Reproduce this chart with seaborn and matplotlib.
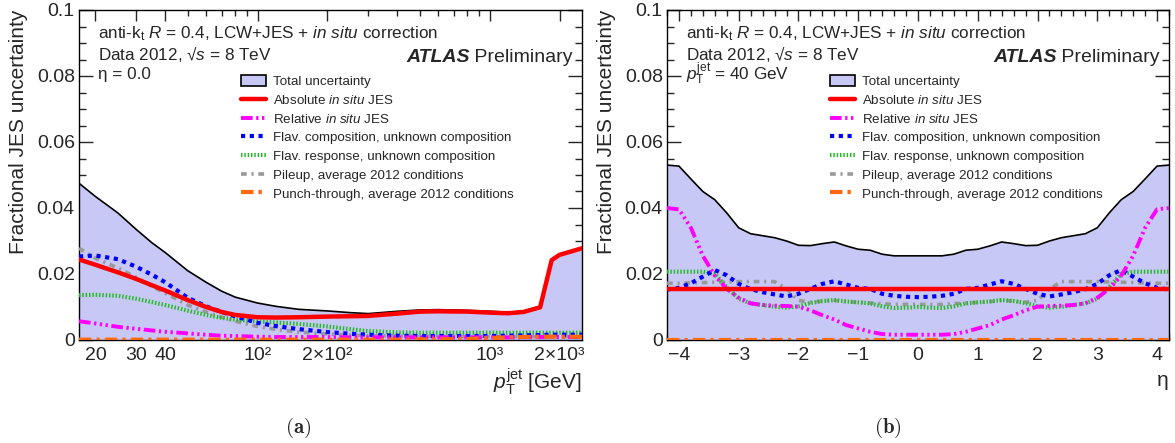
import numpy as np
import pandas as pd
import matplotlib
matplotlib.use("Agg")
import matplotlib.pyplot as plt
import seaborn as sns
from matplotlib.patches import Patch
from matplotlib.lines import Line2D
from matplotlib.ticker import FixedLocator, FixedFormatter, MultipleLocator, NullFormatter

# ---------------- data: panel (a), eta = 0 ----------------
PT = [17, 20, 25, 30, 35, 40, 50, 60, 70, 80, 100, 120, 150, 200, 250, 300,
      400, 500, 600, 800, 1000, 1200, 1400, 1650, 1850, 2000, 2500]
PT_TOTAL = [0.0475, 0.0435, 0.0385, 0.0335, 0.0295, 0.0265, 0.0210, 0.0175, 0.0148, 0.0130,
            0.0112, 0.0102, 0.0093, 0.0088, 0.0083, 0.0080, 0.0087, 0.0091, 0.0092, 0.0090,
            0.0087, 0.0084, 0.0088, 0.0102, 0.0245, 0.0260, 0.0280]
PT_ABS = [0.0244, 0.0228, 0.0205, 0.0185, 0.0166, 0.0150, 0.0121, 0.0100, 0.0085, 0.0076,
          0.0069, 0.0068, 0.0069, 0.0071, 0.0072, 0.0073, 0.0080, 0.0086, 0.0087, 0.0086,
          0.0083, 0.0081, 0.0085, 0.0099, 0.0242, 0.0258, 0.0278]
PT_REL = [0.0057, 0.0050, 0.0040, 0.0034, 0.0029, 0.0025, 0.0020, 0.0016, 0.0013, 0.0012,
          0.0010, 0.0009, 0.0009, 0.0009, 0.0008, 0.0008, 0.0008, 0.0008, 0.0008, 0.0008,
          0.0008, 0.0008, 0.0008, 0.0009, 0.0009, 0.0009, 0.0009]
PT_FLAVCOMP = [0.0253, 0.0256, 0.0245, 0.0222, 0.0198, 0.0175, 0.0128, 0.0102, 0.0085, 0.0072,
               0.0052, 0.0042, 0.0033, 0.0024, 0.0019, 0.0016, 0.0013, 0.0012, 0.0012, 0.0012,
               0.0012, 0.0013, 0.0014, 0.0015, 0.0016, 0.0016, 0.0016]
PT_FLAVRESP = [0.0136, 0.0137, 0.0134, 0.0125, 0.0115, 0.0106, 0.0089, 0.0076, 0.0067, 0.0062,
               0.0056, 0.0053, 0.0049, 0.0041, 0.0033, 0.0027, 0.0023, 0.0022, 0.0022, 0.0022,
               0.0022, 0.0022, 0.0022, 0.0022, 0.0022, 0.0022, 0.0022]
PT_PILEUP = [0.0278, 0.0248, 0.0218, 0.0190, 0.0163, 0.0142, 0.0106, 0.0085, 0.0069, 0.0057,
             0.0041, 0.0032, 0.0024, 0.0018, 0.0015, 0.0013, 0.0012, 0.0011, 0.0011, 0.0010,
             0.0010, 0.0010, 0.0010, 0.0010, 0.0010, 0.0010, 0.0010]
PT_PUNCH = [0.0001, 0.0001, 0.0001, 0.0001, 0.0001, 0.0001, 0.0001, 0.0001, 0.0001, 0.0001,
            0.0001, 0.0001, 0.0001, 0.0001, 0.0001, 0.0001, 0.0001, 0.0002, 0.0002, 0.0003,
            0.0006, 0.0008, 0.0009, 0.0010, 0.0010, 0.0010, 0.0010]

# ---------------- data: panel (b), pT = 40 GeV ----------------
ETA = [-4.2, -4.0, -3.8, -3.6, -3.4, -3.2, -3.0, -2.8, -2.6, -2.4, -2.2, -2.0, -1.8, -1.6,
       -1.4, -1.2, -1.0, -0.8, -0.6, -0.4, -0.2, 0.0, 0.2, 0.4, 0.6, 0.8, 1.0, 1.2, 1.4,
       1.6, 1.8, 2.0, 2.2, 2.4, 2.6, 2.8, 3.0, 3.2, 3.4, 3.6, 3.8, 4.0, 4.2]
ETA_TOTAL = [0.0530, 0.0527, 0.0488, 0.0450, 0.0425, 0.0385, 0.0340, 0.0322, 0.0316, 0.0310,
             0.0300, 0.0287, 0.0286, 0.0292, 0.0297, 0.0285, 0.0275, 0.0272, 0.0260, 0.0255,
             0.0255, 0.0255, 0.0255, 0.0255, 0.0260, 0.0272, 0.0275, 0.0285, 0.0297, 0.0292,
             0.0286, 0.0287, 0.0300, 0.0310, 0.0316, 0.0322, 0.0340, 0.0385, 0.0425, 0.0450,
             0.0488, 0.0527, 0.0530]
ETA_ABS = [0.0154] * 43
ETA_REL = [0.0400, 0.0396, 0.0340, 0.0255, 0.0195, 0.0155, 0.0128, 0.0111, 0.0106, 0.0104,
           0.0103, 0.0101, 0.0090, 0.0075, 0.0062, 0.0045, 0.0035, 0.0025, 0.0018, 0.0016,
           0.0016, 0.0016, 0.0016, 0.0016, 0.0018, 0.0025, 0.0035, 0.0045, 0.0062, 0.0075,
           0.0090, 0.0101, 0.0103, 0.0104, 0.0106, 0.0111, 0.0128, 0.0155, 0.0195, 0.0255,
           0.0340, 0.0396, 0.0400]
ETA_FLAVCOMP = [0.0153, 0.0158, 0.0172, 0.0192, 0.0212, 0.0196, 0.0170, 0.0154, 0.0145, 0.0138,
                0.0132, 0.0140, 0.0155, 0.0170, 0.0178, 0.0168, 0.0158, 0.0155, 0.0140, 0.0134,
                0.0131, 0.0130, 0.0131, 0.0134, 0.0140, 0.0155, 0.0158, 0.0168, 0.0178, 0.0170,
                0.0155, 0.0140, 0.0132, 0.0138, 0.0145, 0.0154, 0.0170, 0.0196, 0.0212, 0.0192,
                0.0172, 0.0158, 0.0153]
ETA_FLAVRESP = [0.0207, 0.0207, 0.0207, 0.0207, 0.0200, 0.0160, 0.0125, 0.0111, 0.0106, 0.0101,
                0.0098, 0.0102, 0.0112, 0.0118, 0.0121, 0.0117, 0.0114, 0.0111, 0.0102, 0.0097,
                0.0098, 0.0100, 0.0098, 0.0097, 0.0102, 0.0111, 0.0114, 0.0117, 0.0121, 0.0118,
                0.0112, 0.0102, 0.0098, 0.0101, 0.0106, 0.0111, 0.0125, 0.0160, 0.0200, 0.0207,
                0.0207, 0.0207, 0.0207]
ETA_PILEUP = [0.0172, 0.0172, 0.0173, 0.0174, 0.0175, 0.0176, 0.0177, 0.0177, 0.0177, 0.0177,
              0.0155, 0.0120, 0.0114, 0.0118, 0.0120, 0.0116, 0.0114, 0.0112, 0.0110, 0.0108,
              0.0108, 0.0108, 0.0108, 0.0108, 0.0110, 0.0112, 0.0114, 0.0116, 0.0120, 0.0118,
              0.0114, 0.0120, 0.0155, 0.0177, 0.0177, 0.0177, 0.0177, 0.0176, 0.0175, 0.0174,
              0.0173, 0.0172, 0.0172]
ETA_PUNCH = [0.0] * 43

LABELS = ["Total uncertainty", "Absolute $in$ $situ$ JES", "Relative $in$ $situ$ JES",
          "Flav. composition, unknown composition", "Flav. response, unknown composition",
          "Pileup, average 2012 conditions", "Punch-through, average 2012 conditions"]

FILL = "#c8c8f7"
STYLES = [
    dict(color="#ff0000", lw=3.2, ls="-"),
    dict(color="#ff00ff", lw=2.8, ls=(0, (3, 0.9, 0.6, 0.9, 0.6, 0.9, 0.6, 0.9))),
    dict(color="#0000ff", lw=3.0, ls=(0, (1, 1.1))),
    dict(color="#22bb22", lw=3.0, ls=(0, (0.35, 0.45))),
    dict(color="#999999", lw=2.6, ls=(0, (1.6, 1.3, 0.6, 1.3))),
    dict(color="#ff6a10", lw=3.0, ls=(0, (3, 1.2, 0.8, 1.2))),
]

sns.set_style("ticks")
plt.rcParams["font.family"] = ["Liberation Sans", "DejaVu Sans"]
plt.rcParams["mathtext.fontset"] = "custom"
plt.rcParams["mathtext.rm"] = "Liberation Sans"
plt.rcParams["mathtext.it"] = "Liberation Sans:italic"
plt.rcParams["mathtext.bf"] = "Liberation Sans:bold"
plt.rcParams["axes.linewidth"] = 1.0

fig = plt.figure(figsize=(11.75, 4.43), dpi=100)
axL = fig.add_axes([79 / 1175, 103 / 443, 503 / 1175, 330 / 443])
axR = fig.add_axes([667 / 1175, 103 / 443, 502 / 1175, 330 / 443])


def draw(ax, x, total, comps):
    ax.fill_between(x, 0, total, color=FILL, lw=0, zorder=1)
    sns.lineplot(x=x, y=total, ax=ax, color="black", lw=1.2, errorbar=None, zorder=2)
    order = [4, 3, 2, 1, 5, 0]
    for i in order:
        st = STYLES[i]
        sns.lineplot(x=x, y=comps[i], ax=ax, color=st["color"], lw=st["lw"],
                     linestyle=st["ls"], errorbar=None, zorder=3 + (i == 0))


axL.set_xscale("log")
draw(axL, PT, PT_TOTAL, [PT_ABS, PT_REL, PT_FLAVCOMP, PT_FLAVRESP, PT_PILEUP, PT_PUNCH])
draw(axR, ETA, ETA_TOTAL, [ETA_ABS, ETA_REL, ETA_FLAVCOMP, ETA_FLAVRESP, ETA_PILEUP, ETA_PUNCH])

axL.set_xlim(17, 2500)
axR.set_xlim(-4.2, 4.2)

YT = [0, 0.02, 0.04, 0.06, 0.08, 0.1]
YTL = ["0", "0.02", "0.04", "0.06", "0.08", "0.1"]
for ax in (axL, axR):
    ax.set_ylim(0, 0.1)
    ax.yaxis.set_major_locator(FixedLocator(YT))
    ax.yaxis.set_major_formatter(FixedFormatter(YTL))
    ax.yaxis.set_minor_locator(MultipleLocator(0.005))
    ax.tick_params(axis="both", which="both", direction="in", top=True, right=True,
                   labelsize=14, width=1.0)
    ax.tick_params(axis="y", which="major", length=10, pad=3)
    ax.tick_params(axis="y", which="minor", length=5)
    ax.tick_params(axis="x", which="major", length=8, pad=5)
    ax.tick_params(axis="x", which="minor", length=4)
    ax.set_ylabel("Fractional JES uncertainty", fontsize=15, loc="top", labelpad=6)
    for s in ax.spines.values():
        s.set_color("black")

XT = [20, 30, 40, 100, 200, 1000, 2000]
XTL = ["20", "30", "40", "10²", "2×10²", "10³", "2×10³"]
axL.xaxis.set_major_locator(FixedLocator(XT))
axL.xaxis.set_major_formatter(FixedFormatter(XTL))
axL.xaxis.set_minor_locator(FixedLocator([50, 60, 70, 80, 90, 300, 400, 500, 600, 700, 800, 900]))
axL.xaxis.set_minor_formatter(NullFormatter())
axL.set_xlabel(r"$p_{\mathrm{T}}^{\mathrm{jet}}$ [GeV]", fontsize=15, loc="right", labelpad=2)

axR.xaxis.set_major_locator(FixedLocator([-4, -3, -2, -1, 0, 1, 2, 3, 4]))
axR.xaxis.set_major_formatter(FixedFormatter(["−4", "−3", "−2", "−1", "0", "1", "2", "3", "4"]))
axR.xaxis.set_minor_locator(MultipleLocator(0.2))
axR.set_xlabel("η", fontsize=15, loc="right", labelpad=5)

# header texts
prelim = []
for ax, third in ((axL, "η = 0.0"), (axR, r"$p_{\mathrm{T}}^{\mathrm{jet}}$ = 40 GeV")):
    ax.text(0.038, 0.928, r"anti-k$_{\mathrm{t}}$ $R$ = 0.4, LCW+JES + $in$ $situ$ correction",
            transform=ax.transAxes, fontsize=12.3, va="center", ha="left")
    ax.text(0.038, 0.868, r"Data 2012, √$s$ = 8 TeV", transform=ax.transAxes,
            fontsize=12.3, va="center", ha="left")
    ax.text(0.038, 0.805, third, transform=ax.transAxes, fontsize=12.3, va="center", ha="left")
    t = ax.text(0.982, 0.855, " Preliminary", transform=ax.transAxes,
                fontsize=14, va="center", ha="right")
    prelim.append((ax, t))

fig.canvas.draw()
renderer = fig.canvas.get_renderer()
for ax, t in prelim:
    bb = t.get_window_extent(renderer=renderer)
    x_disp = bb.x0
    x_ax = ax.transAxes.inverted().transform((x_disp, 0))[0]
    ax.text(x_ax, 0.855, "ATLAS", transform=ax.transAxes, fontsize=14, fontweight="bold",
            fontstyle="italic", va="center", ha="right")

# legends
handles = [Patch(facecolor=FILL, edgecolor="black", lw=1.2)]
for st in STYLES:
    handles.append(Line2D([], [], color=st["color"], lw=st["lw"], linestyle=st["ls"]))
for ax, x0 in ((axL, 241), (axR, 830)):
    fig.legend(handles, LABELS, loc="upper left",
               bbox_to_anchor=(x0 / 1175, 1 - 75 / 443), frameon=False, fontsize=9.6,
               handlelength=1.9, handleheight=0.9, handletextpad=0.5, labelspacing=0.42,
               borderpad=0, borderaxespad=0)

fig.text(298 / 1175, 1 - 428 / 443, r"$\mathbf{(a)}$", math_fontfamily="cm",
         fontsize=15, ha="center", va="center")
fig.text(888 / 1175, 1 - 428 / 443, r"$\mathbf{(b)}$", math_fontfamily="cm",
         fontsize=15, ha="center", va="center")

fig.savefig("out.png", dpi=100)
